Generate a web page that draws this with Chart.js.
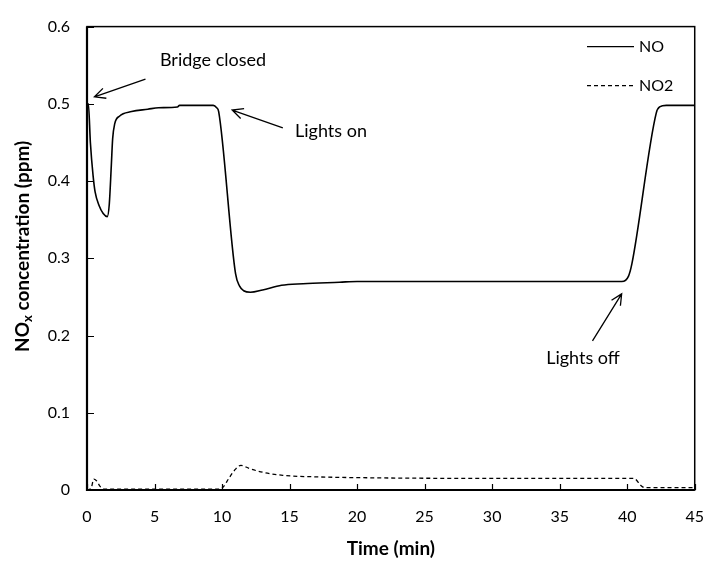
<!DOCTYPE html>
<html>
<head>
<meta charset="utf-8">
<script src="https://cdn.jsdelivr.net/npm/chart.js@4.4.1/dist/chart.umd.min.js"></script>
<style>
  html, body { margin: 0; padding: 0; background: #fff; }
  #wrap { width: 721px; height: 563px; }
</style>
</head>
<body>
<div id="wrap"><canvas id="chart" width="721" height="563"></canvas></div>
<script>
// time (min) and NO concentration (ppm)
const noTimes = [0, 0.1, 0.25, 0.45, 0.6, 0.9, 1.2, 1.5, 1.65, 1.8, 1.9, 2.05, 2.4, 3.3, 4.5, 5.3, 6.7, 6.85, 9.35, 9.6, 9.75, 11.0, 11.3, 11.6, 12.1, 13.0, 14.4, 16, 18.7, 20, 39.6, 40.1, 40.35, 42.15, 42.4, 42.9, 45];
const noValues = [0.500, 0.500, 0.450, 0.407, 0.386, 0.368, 0.358, 0.354, 0.370, 0.420, 0.455, 0.474, 0.484, 0.490, 0.493, 0.495, 0.496, 0.498, 0.498, 0.495, 0.490, 0.280, 0.264, 0.258, 0.256, 0.259, 0.265, 0.267, 0.269, 0.270, 0.270, 0.277, 0.293, 0.488, 0.496, 0.498, 0.498];

const no2Times = [0, 0.3, 0.5, 0.7, 1.0, 1.3, 9.8, 10.1, 10.5, 11.0, 11.4, 12.0, 13.0, 14.5, 17, 20, 30, 40.5, 41.0, 41.3, 45];
const no2Values = [0, 0.002, 0.014, 0.012, 0.004, 0.001, 0.001, 0.004, 0.015, 0.027, 0.032, 0.028, 0.023, 0.019, 0.017, 0.016, 0.015, 0.015, 0.006, 0.003, 0.003];

const seriesLabels = ['NO', 'NO2'];
const xTicks = [0, 5, 10, 15, 20, 25, 30, 35, 40, 45];
const yTicks = [0, 0.1, 0.2, 0.3, 0.4, 0.5, 0.6];

// annotations: text position and arrow tail/tip, in data units
const notes = [
  { text: 'Bridge closed', tx: 5.4, ty: 0.557, from: [4.33, 0.532], to: [0.55, 0.509] },
  { text: 'Lights on', tx: 15.4, ty: 0.465, from: [14.5, 0.469], to: [10.75, 0.492] },
  { text: 'Lights off', tx: 34.0, ty: 0.171, from: [37.43, 0.193], to: [39.59, 0.254] }
];

const FONT = 'Lato, "Open Sans", sans-serif';

const toPoints = (xs, ys) => xs.map((x, i) => ({ x: x, y: ys[i] }));

const drawArrow = (ctx, x1, y1, x2, y2) => {
  const ang = Math.atan2(y2 - y1, x2 - x1);
  const head = 12;
  const spread = 0.45;
  ctx.beginPath();
  ctx.moveTo(x1, y1);
  ctx.lineTo(x2, y2);
  ctx.moveTo(x2 - head * Math.cos(ang - spread), y2 - head * Math.sin(ang - spread));
  ctx.lineTo(x2, y2);
  ctx.lineTo(x2 - head * Math.cos(ang + spread), y2 - head * Math.sin(ang + spread));
  ctx.stroke();
};

const decorPlugin = {
  id: 'decor',
  afterDraw(chart) {
    const ctx = chart.ctx;
    const a = chart.chartArea;
    const xs = chart.scales.x;
    const ys = chart.scales.y;
    ctx.save();
    ctx.strokeStyle = '#000';
    // frame
    ctx.lineWidth = 1.5;
    ctx.strokeRect(a.left, a.top, a.right - a.left, a.bottom - a.top);
    ctx.lineWidth = 2.2;
    ctx.beginPath();
    ctx.moveTo(a.left, a.top);
    ctx.lineTo(a.left, a.bottom);
    ctx.lineTo(a.right, a.bottom);
    ctx.stroke();
    // inward ticks
    ctx.lineWidth = 1.2;
    ctx.beginPath();
    yTicks.forEach(v => {
      const py = Math.round(ys.getPixelForValue(v)) + 0.5;
      ctx.moveTo(a.left, py);
      ctx.lineTo(a.left + 7, py);
    });
    xTicks.forEach(v => {
      const px = Math.round(xs.getPixelForValue(v)) + 0.5;
      ctx.moveTo(px, a.bottom);
      ctx.lineTo(px, a.bottom - 6);
    });
    ctx.stroke();

    // legend
    ctx.font = '16px ' + FONT;
    ctx.fillStyle = '#000';
    ctx.textBaseline = 'middle';
    ctx.textAlign = 'left';
    chart.data.datasets.forEach((ds, i) => {
      const ly = a.top + 20 + i * 39;
      ctx.lineWidth = 1.3;
      ctx.setLineDash(ds.borderDash || []);
      ctx.beginPath();
      ctx.moveTo(587, ly);
      ctx.lineTo(634, ly);
      ctx.stroke();
      ctx.setLineDash([]);
      ctx.fillText(ds.label, 639, ly);
    });

    // annotations
    ctx.font = '18px ' + FONT;
    ctx.lineWidth = 1.3;
    notes.forEach(n => {
      ctx.fillText(n.text, xs.getPixelForValue(n.tx), ys.getPixelForValue(n.ty));
      drawArrow(ctx,
        xs.getPixelForValue(n.from[0]), ys.getPixelForValue(n.from[1]),
        xs.getPixelForValue(n.to[0]), ys.getPixelForValue(n.to[1]));
    });

    // y axis title with subscript
    ctx.translate(23, (a.top + a.bottom) / 2 - 12);
    ctx.rotate(-Math.PI / 2);
    ctx.textAlign = 'left';
    const big = 'bold 19px ' + FONT;
    const small = 'bold 13px ' + FONT;
    const parts = [['NO', big, 0], ['x', small, 5], [' concentration (ppm)', big, 0]];
    let total = 0;
    parts.forEach(p => { ctx.font = p[1]; total += ctx.measureText(p[0]).width; });
    let cx = -total / 2;
    parts.forEach(p => {
      ctx.font = p[1];
      ctx.fillText(p[0], cx, p[2]);
      cx += ctx.measureText(p[0]).width;
    });
    ctx.restore();
  }
};

new Chart(document.getElementById('chart'), {
  type: 'line',
  data: {
    datasets: [
      {
        label: seriesLabels[0],
        data: toPoints(noTimes, noValues),
        borderColor: '#000',
        borderWidth: 1.6,
        pointRadius: 0,
        cubicInterpolationMode: 'monotone',
        fill: false
      },
      {
        label: seriesLabels[1],
        data: toPoints(no2Times, no2Values),
        borderColor: '#000',
        borderWidth: 1.3,
        borderDash: [4, 3],
        pointRadius: 0,
        cubicInterpolationMode: 'monotone',
        fill: false
      }
    ]
  },
  options: {
    responsive: false,
    devicePixelRatio: 1,
    animation: false,
    layout: { padding: { top: 13, right: 10, left: 0, bottom: 0 } },
    plugins: {
      legend: { display: false },
      tooltip: { enabled: false }
    },
    scales: {
      x: {
        type: 'linear',
        min: 0,
        max: 45,
        afterFit: (scale) => { scale.height = 73; },
        afterBuildTicks: (scale) => { scale.ticks = xTicks.map(v => ({ value: v })); },
        grid: { display: false, drawTicks: false },
        border: { display: false },
        ticks: {
          padding: 17,
          color: '#000',
          font: { family: FONT, size: 16 },
          maxRotation: 0,
          callback: (v) => String(v)
        },
        title: {
          display: true,
          text: 'Time (min)',
          color: '#000',
          font: { family: FONT, size: 19, weight: 'bold' },
          padding: { top: 0, bottom: 3 }
        }
      },
      y: {
        type: 'linear',
        min: 0,
        max: 0.6,
        afterFit: (scale) => { scale.width = 87; },
        afterBuildTicks: (scale) => { scale.ticks = yTicks.map(v => ({ value: v })); },
        grid: { display: false, drawTicks: false },
        border: { display: false },
        ticks: {
          padding: 17,
          color: '#000',
          font: { family: FONT, size: 16 },
          callback: (v) => (v === 0 ? '0' : v.toFixed(1))
        }
      }
    }
  },
  plugins: [decorPlugin]
});
</script>
</body>
</html>
